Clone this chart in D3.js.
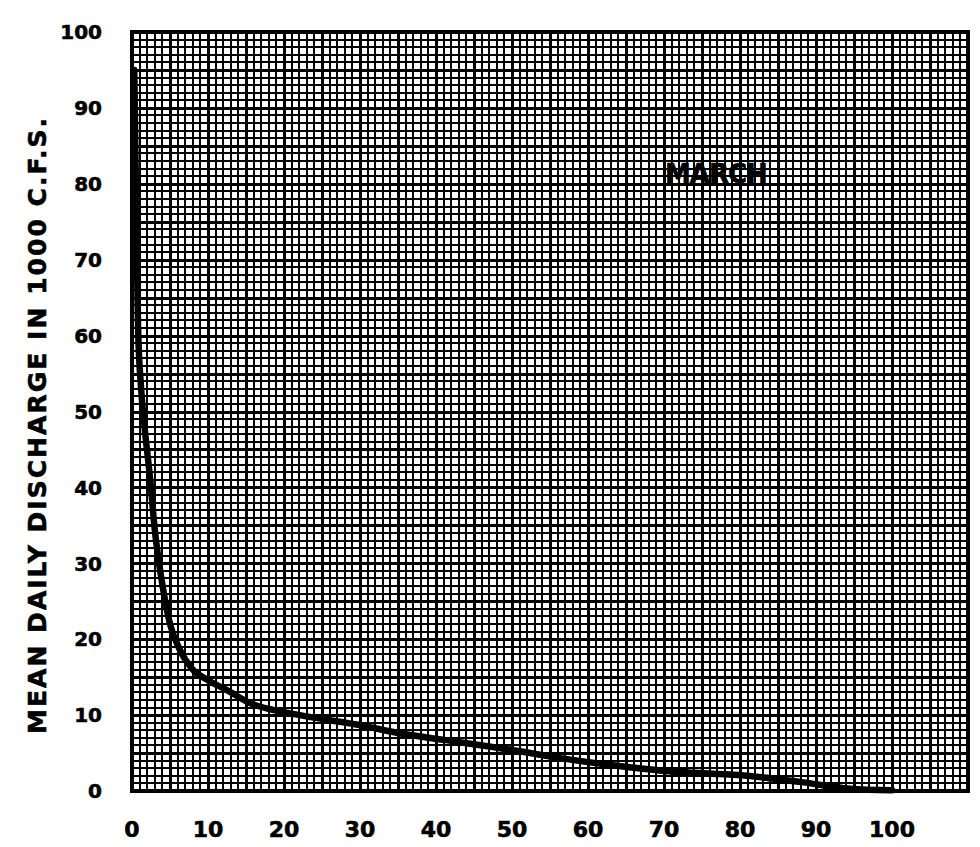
<!DOCTYPE html>
<html>
<head>
<meta charset="utf-8">
<script src="https://cdn.jsdelivr.net/npm/d3@7"></script>
<style>
	body { margin:0; background:#fff; }
	text { font-family:"DejaVu Sans", sans-serif; font-weight:bold; fill:#000; stroke:#000; stroke-width:0.6; }
</style>
</head>
<body>
<div id="chart"></div>
<script>

// percent of time flow equalled or exceeded
var pct = [0.3, 0.5, 0.8, 1.2, 1.7, 2.4, 3.0, 3.9, 5.0, 6.3, 8.0, 10, 12.5, 15.5, 18.5, 21, 24.3, 29.9, 35.2, 41.3, 50, 56.6, 63.2, 72, 79.8, 87.9, 94.5, 100];
// mean daily discharge, 1000 c.f.s.
var flow = [95, 80, 61, 53, 47.5, 41, 34.4, 27.8, 22, 18.6, 16, 14.6, 13.3, 11.6, 10.7, 10.2, 9.6, 8.7, 7.6, 6.7, 5.4, 4.3, 3.4, 2.5, 2.1, 1.2, 0.3, 0.1];

var xTicks = [0, 10, 20, 30, 40, 50, 60, 70, 80, 90, 100];
var yTicks = [0, 10, 20, 30, 40, 50, 60, 70, 80, 90, 100];
var yTitle = 'MEAN DAILY DISCHARGE IN 1000 C.F.S.';
var month = 'MARCH';

window.onload = function () {

	const width = 980
	const height = 847

	var svg = d3.select('#chart').append('svg')
		.attr('width', width)
		.attr('height', height);

	var x = d3.scaleLinear().domain([0, 110]).range([132, 968]);
	var y = d3.scaleLinear().domain([0, 100]).range([791, 32]);

	// graph paper: a line every unit, heavier every 5
	var grid = svg.append('g').attr('id', 'grid').attr('stroke', '#000').attr('shape-rendering', 'crispEdges');
	grid.selectAll('line.v').data(d3.range(0, 111)).enter().append('line')
		.attr('x1', function(d){ return Math.round(x(d)) }).attr('x2', function(d){ return Math.round(x(d)) })
		.attr('y1', y(0)).attr('y2', y(100))
		.attr('stroke-width', function(d){ return d % 5 == 0 ? 3 : 2 });
	grid.selectAll('line.h').data(d3.range(0, 101)).enter().append('line')
		.attr('y1', function(d){ return Math.round(y(d)) }).attr('y2', function(d){ return Math.round(y(d)) })
		.attr('x1', x(0)).attr('x2', x(110))
		.attr('stroke-width', function(d){ return d % 5 == 0 ? 3 : 2 });
	svg.append('rect')
		.attr('x', x(0)).attr('y', y(100))
		.attr('width', x(110) - x(0)).attr('height', y(0) - y(100))
		.attr('fill', 'none').attr('stroke', '#000').attr('stroke-width', 4);

	// duration curve
	var pts = pct.map(function(p, i){ return [p, flow[i]] });
	var line = d3.line()
		.x(function(d){ return x(d[0]) })
		.y(function(d){ return y(d[1]) })
		.curve(d3.curveMonotoneX);
	svg.append('path')
		.attr('d', line(pts))
		.attr('fill', 'none')
		.attr('stroke', '#000')
		.attr('stroke-width', 6.5)
		.attr('stroke-linecap', 'round');

	// tick labels
	svg.append('g').selectAll('text').data(yTicks).enter().append('text')
		.attr('x', 102).attr('y', function(d){ return y(d) })
		.attr('dy', '0.36em')
		.attr('text-anchor', 'end')
		.attr('font-size', 20)
		.text(function(d){ return d });
	svg.append('g').selectAll('text').data(xTicks).enter().append('text')
		.attr('x', function(d){ return x(d) }).attr('y', 829)
		.attr('dy', '0.36em')
		.attr('text-anchor', 'middle')
		.attr('font-size', 22)
		.text(function(d){ return d });

	// axis title
	svg.append('text')
		.attr('transform', 'translate(46,426) rotate(-90)')
		.attr('text-anchor', 'middle')
		.attr('font-size', 25)
		.attr('textLength', 616)
		.attr('lengthAdjust', 'spacing')
		.text(yTitle);

	svg.append('text')
		.attr('x', 665).attr('y', 183)
		.attr('font-size', 26)
		.attr('letter-spacing', -1)
		.text(month);
}
</script>
</body>
</html>
